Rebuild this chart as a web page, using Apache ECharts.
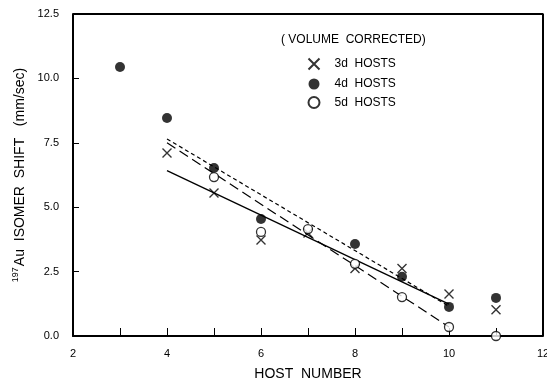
<!DOCTYPE html>
<html>
<head>
<meta charset="utf-8">
<script src="https://cdn.jsdelivr.net/npm/echarts@6/dist/echarts.min.js"></script>
<style>
  html, body { margin: 0; padding: 0; background: #fff; }
  #main { width: 547px; height: 379px; }
</style>
</head>
<body>
<div id="main"></div>
<script>
// values
var hosts3d = [[4, 7.10], [5, 5.55], [6, 3.73], [7, 4.00], [8, 2.62], [9, 2.62], [10, 1.63], [11, 1.02]];
var hosts4d = [[3, 10.44], [4, 8.46], [5, 6.52], [6, 4.54], [8, 3.57], [9, 2.30], [10, 1.13], [11, 1.48]];
var hosts5d = [[5, 6.17], [6, 4.04], [7, 4.15], [8, 2.80], [9, 1.51], [10, 0.35], [11, 0.0]];

// least-squares lines (end points)
var fit3d = [[4, 6.42], [10, 1.24]];
var fit4d = [[4, 7.65], [10, 1.15]];
var fit5d = [[4, 7.50], [10, 0.35]];

var yTicks = [0, 2.5, 5, 7.5, 10, 12.5];

var FONT = 'Liberation Sans';
var crossPath = 'path://M0,0L10,10M10,0L0,10';

var chart = echarts.init(document.getElementById('main'));

chart.setOption({
    animation: false,
    backgroundColor: '#fff',
    textStyle: { fontFamily: FONT, color: '#000' },
    title: {
        text: '( VOLUME  CORRECTED)',
        left: 276,
        top: 29,
        textStyle: { fontFamily: FONT, fontSize: 12, fontWeight: 'normal', color: '#000' }
    },
    legend: {
        orient: 'vertical',
        left: 301,
        top: 51,
        itemGap: 6,
        itemWidth: 11,
        itemHeight: 11,
        textStyle: { fontFamily: FONT, fontSize: 12, color: '#000', padding: [0, 0, 0, 10] },
        formatter: function (name) { return name.replace(' ', '  '); },
        data: ['3d HOSTS', '4d HOSTS', '5d HOSTS']
    },
    grid: { left: 73, right: 4, top: 14, bottom: 43, outerBoundsMode: 'none', containLabel: false },
    xAxis: {
        type: 'value',
        min: 2,
        max: 12,
        interval: 1,
        name: 'HOST  NUMBER',
        nameLocation: 'middle',
        nameGap: 31,
        nameTextStyle: { fontFamily: FONT, fontSize: 14, color: '#000' },
        axisLine: { onZero: false, lineStyle: { color: '#000', width: 2 } },
        axisTick: { inside: true, length: 8, lineStyle: { color: '#000', width: 1 } },
        axisLabel: {
            fontFamily: FONT, fontSize: 11, color: '#000', margin: 12,
            formatter: function (v) { return v % 2 === 0 ? String(v) : ''; }
        },
        splitLine: { show: false }
    },
    yAxis: {
        type: 'value',
        min: 0,
        max: 12.5,
        interval: 2.5,
        name: '{sup|197}Au  ISOMER  SHIFT   (mm/sec)',
        nameLocation: 'middle',
        nameGap: 38,
        nameTextStyle: {
            fontFamily: FONT, fontSize: 14, color: '#000',
            rich: {
                sup: { fontFamily: FONT, fontSize: 9, color: '#000', verticalAlign: 'bottom', padding: [0, 1, 9, 0] }
            }
        },
        axisLine: { onZero: false, lineStyle: { color: '#000', width: 2 } },
        axisTick: { inside: true, length: 6, lineStyle: { color: '#000', width: 1 } },
        axisLabel: {
            fontFamily: FONT, fontSize: 11, color: '#000', margin: 14,
            formatter: function (v) { return yTicks.indexOf(v) >= 0 ? v.toFixed(1) : ''; }
        },
        splitLine: { show: false }
    },
    series: [
        {
            name: '3d HOSTS',
            type: 'scatter',
            symbol: crossPath,
            symbolSize: 9,
            itemStyle: { color: 'none', borderColor: '#000', borderWidth: 1.4 },
            data: hosts3d,
            z: 5
        },
        {
            name: '4d HOSTS',
            type: 'scatter',
            symbol: 'circle',
            symbolSize: 10,
            itemStyle: { color: '#000' },
            data: hosts4d,
            z: 4
        },
        {
            name: '5d HOSTS',
            type: 'scatter',
            symbol: 'circle',
            symbolSize: 9,
            itemStyle: { color: '#fff', borderColor: '#000', borderWidth: 1.3 },
            data: hosts5d,
            z: 6
        },
        {
            name: 'fit 3d',
            type: 'line',
            symbol: 'none',
            lineStyle: { color: '#000', width: 1.3, type: 'solid' },
            data: fit3d,
            z: 3
        },
        {
            name: 'fit 4d',
            type: 'line',
            symbol: 'none',
            lineStyle: { color: '#000', width: 1.2, type: [4, 3] },
            data: fit4d,
            z: 3
        },
        {
            name: 'fit 5d',
            type: 'line',
            symbol: 'none',
            lineStyle: { color: '#000', width: 1.2, type: [10, 5] },
            data: fit5d,
            z: 3
        },
        {
            // box frame on top and right
            name: 'frame',
            type: 'line',
            symbol: 'none',
            silent: true,
            lineStyle: { color: '#000', width: 2 },
            data: [[2, 12.5], [12, 12.5], [12, 0]],
            z: 2
        }
    ]
});
</script>
</body>
</html>
